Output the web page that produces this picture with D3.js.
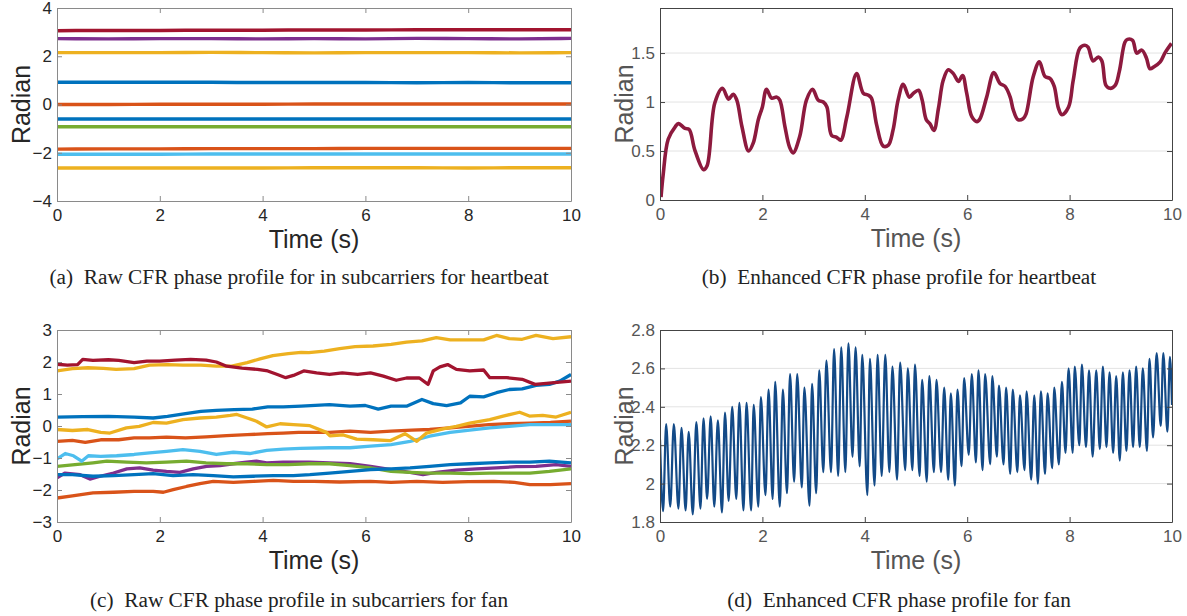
<!DOCTYPE html>
<html><head><meta charset="utf-8">
<script src="https://cdn.jsdelivr.net/npm/d3@7"></script>
<style>html,body{margin:0;padding:0;background:#fff}</style>
</head><body>
<svg id="fig" width="1187" height="616"></svg>
<script>
// ---------------- DATA ----------------
const xTicks = [0, 2, 4, 6, 8, 10];
const aYTicks = [-4, -2, 0, 2, 4];
const bYTicks = [0, 0.5, 1, 1.5];
const cYTicks = [-3, -2, -1, 0, 1, 2, 3];
const dYTicks = [1.8, 2, 2.2, 2.4, 2.6, 2.8];

const captions = [
  "(a)\u2002Raw CFR phase profile for in subcarriers for heartbeat",
  "(b)\u2002Enhanced CFR phase profile for heartbeat",
  "(c)\u2002Raw CFR phase profile in subcarriers for fan",
  "(d)\u2002Enhanced CFR phase profile for fan"
];

// (a) raw phase, heartbeat: values at t = 0,1,...,10
const aTime = [0,1,2,3,4,5,6,7,8,9,10];
const aRed      = [3.06,3.07,3.07,3.08,3.08,3.09,3.09,3.10,3.10,3.10,3.10];
const aPurple   = [2.73,2.72,2.73,2.73,2.72,2.73,2.72,2.74,2.73,2.72,2.74];
const aYellow1  = [2.15,2.15,2.15,2.16,2.15,2.14,2.15,2.15,2.15,2.14,2.15];
const aBlue1    = [0.92,0.92,0.92,0.92,0.91,0.91,0.91,0.90,0.91,0.90,0.90];
const aOrange1  = [0.00,0.00,0.01,0.01,0.01,0.02,0.02,0.02,0.02,0.02,0.02];
const aBlue2    = [-0.60,-0.60,-0.60,-0.60,-0.60,-0.60,-0.60,-0.60,-0.60,-0.60,-0.60];
const aGreen    = [-0.92,-0.92,-0.92,-0.92,-0.92,-0.92,-0.92,-0.92,-0.92,-0.92,-0.92];
const aOrange2  = [-1.85,-1.84,-1.84,-1.83,-1.83,-1.83,-1.82,-1.82,-1.82,-1.82,-1.82];
const aLightBlue= [-2.06,-2.06,-2.06,-2.05,-2.05,-2.05,-2.05,-2.05,-2.05,-2.05,-2.05];
const aYellow2  = [-2.63,-2.63,-2.63,-2.63,-2.63,-2.62,-2.62,-2.62,-2.63,-2.62,-2.62];

// (b) enhanced phase, heartbeat
const bTime = [0.02,0.06,0.16,0.30,0.36,0.49,0.57,0.68,0.85,0.92,1.07,1.22,1.34,1.43,1.50,1.60,1.73,1.82,1.92,2.00,2.08,2.18,2.28,2.34,2.44,2.53,2.60,2.73,2.86,2.98,3.09,3.19,3.26,3.35,3.45,3.53,3.65,3.84,3.97,4.07,4.13,4.23,4.36,4.46,4.55,4.65,4.75,4.87,4.95,5.05,5.12,5.20,5.27,5.35,5.44,5.53,5.63,5.73,5.83,5.91,5.99,6.09,6.19,6.25,6.38,6.52,6.64,6.74,6.84,6.90,6.99,7.09,7.15,7.29,7.41,7.52,7.62,7.70,7.78,7.85,7.98,8.07,8.20,8.30,8.36,8.46,8.56,8.63,8.71,8.79,8.89,8.97,9.08,9.13,9.23,9.31,9.41,9.50,9.57,9.65,9.77,9.86,9.99];
const bPhase = [0.03,0.25,0.62,0.75,0.78,0.73,0.72,0.51,0.31,0.35,0.99,1.14,1.03,1.08,1.02,0.75,0.50,0.58,0.82,0.95,1.13,1.04,1.05,1.02,0.75,0.54,0.48,0.65,1.02,1.13,1.02,1.00,0.95,0.66,0.64,0.61,0.85,1.29,1.09,1.07,1.04,0.77,0.55,0.56,0.71,1.02,1.18,1.05,1.09,1.12,1.02,0.82,0.78,0.71,0.94,1.22,1.33,1.29,1.21,1.27,1.09,0.85,0.80,0.83,1.05,1.30,1.19,1.16,1.05,0.92,0.82,0.83,0.88,1.26,1.41,1.26,1.24,1.16,0.94,0.87,0.95,1.22,1.55,1.58,1.56,1.42,1.46,1.42,1.17,1.14,1.17,1.31,1.61,1.64,1.63,1.50,1.53,1.45,1.34,1.36,1.41,1.50,1.60];

// (c) raw phase, fan: [time, radian] pairs per subcarrier
const cRed = [[0,1.93],[0.2,1.9],[0.4,1.92],[0.5,2.08],[0.7,2.05],[1,2.07],[1.2,2.05],[1.5,1.98],[1.75,2.03],[2,2.03],[2.3,2.06],[2.6,2.08],[2.9,2.06],[3.1,2.0],[3.3,1.87],[3.6,1.81],[3.9,1.77],[4.1,1.72],[4.3,1.6],[4.45,1.51],[4.6,1.58],[4.8,1.72],[5.05,1.66],[5.3,1.61],[5.55,1.66],[5.85,1.61],[6.1,1.66],[6.35,1.56],[6.6,1.43],[6.8,1.5],[7.05,1.5],[7.22,1.3],[7.32,1.72],[7.45,1.85],[7.6,1.92],[7.77,1.77],[8.03,1.72],[8.3,1.75],[8.42,1.51],[8.75,1.51],[9.05,1.46],[9.3,1.3],[9.52,1.33],[9.78,1.37],[10,1.4]];
const cYellow1 = [[0,1.72],[0.3,1.79],[0.6,1.82],[0.9,1.8],[1.15,1.77],[1.5,1.79],[1.8,1.9],[2.15,1.92],[2.45,1.9],[2.8,1.9],[3.1,1.87],[3.4,1.87],[3.7,1.98],[3.95,2.1],[4.2,2.2],[4.5,2.26],[4.75,2.3],[4.9,2.29],[5.2,2.34],[5.5,2.42],[5.8,2.48],[6.15,2.5],[6.5,2.55],[6.8,2.62],[7.1,2.66],[7.38,2.76],[7.65,2.69],[8.0,2.69],[8.3,2.69],[8.55,2.83],[8.8,2.73],[9.05,2.71],[9.32,2.83],[9.65,2.73],[10,2.79]];
const cBlue1 = [[0,0.28],[0.5,0.29],[1,0.3],[1.5,0.28],[1.87,0.25],[2.15,0.3],[2.5,0.39],[2.8,0.46],[3.1,0.49],[3.45,0.51],[3.8,0.53],[4.1,0.6],[4.4,0.6],[4.75,0.62],[5.3,0.67],[5.7,0.62],[6.0,0.64],[6.25,0.53],[6.5,0.62],[6.8,0.62],[7.1,0.83],[7.32,0.7],[7.58,0.64],[7.85,0.72],[8.03,0.93],[8.3,0.91],[8.55,1.04],[8.8,1.14],[9.05,1.16],[9.32,1.27],[9.58,1.3],[9.78,1.4],[10,1.61]];
const cYellow2 = [[0,-0.11],[0.3,-0.14],[0.6,-0.11],[0.85,-0.2],[1.03,-0.22],[1.35,-0.06],[1.6,-0.01],[1.87,0.11],[2.13,0.09],[2.45,0.2],[2.78,0.25],[3.1,0.28],[3.37,0.33],[3.5,0.36],[3.7,0.25],[3.88,0.15],[4.08,-0.03],[4.34,0.07],[4.6,0.04],[4.92,0.01],[5.24,-0.2],[5.31,-0.31],[5.57,-0.28],[5.83,-0.41],[6.15,-0.43],[6.48,-0.46],[6.77,-0.24],[7.0,-0.48],[7.19,-0.22],[7.51,-0.09],[7.77,-0.01],[8.03,0.09],[8.42,0.2],[8.68,0.31],[9.0,0.43],[9.19,0.31],[9.45,0.33],[9.71,0.28],[10,0.43]];
const cOrange1 = [[0,-0.48],[0.3,-0.45],[0.55,-0.51],[0.85,-0.43],[1.2,-0.43],[1.5,-0.37],[1.8,-0.37],[2.13,-0.35],[2.5,-0.37],[2.9,-0.34],[3.3,-0.3],[3.7,-0.27],[4.1,-0.24],[4.4,-0.22],[4.7,-0.2],[5.3,-0.2],[5.7,-0.16],[6.1,-0.2],[6.5,-0.16],[6.9,-0.13],[7.25,-0.11],[7.65,-0.06],[8.0,-0.01],[8.4,0.04],[8.8,0.07],[9.2,0.09],[9.6,0.11],[10,0.15]];
const cLightBlue = [[0,-1.03],[0.16,-0.86],[0.32,-0.93],[0.48,-1.1],[0.61,-0.93],[0.85,-0.95],[1.16,-0.93],[1.5,-0.89],[1.8,-0.84],[2.13,-0.79],[2.45,-0.74],[2.78,-0.79],[3.1,-0.89],[3.43,-0.82],[3.75,-0.86],[4.08,-0.76],[4.4,-0.72],[4.73,-0.7],[5.3,-0.68],[5.7,-0.68],[6.1,-0.63],[6.5,-0.58],[6.87,-0.48],[7.25,-0.32],[7.65,-0.2],[8.03,-0.13],[8.42,-0.06],[8.8,-0.01],[9.2,0.04],[9.6,0.04],[10,0.04]];
const cGreen = [[0,-1.26],[0.35,-1.21],[0.7,-1.15],[0.97,-1.1],[1.36,-1.13],[1.74,-1.15],[2.13,-1.13],[2.52,-1.1],[2.9,-1.15],[3.3,-1.18],[3.7,-1.18],[4.08,-1.21],[4.5,-1.21],[4.9,-1.18],[5.3,-1.18],[5.7,-1.24],[6.1,-1.31],[6.5,-1.42],[6.87,-1.45],[7.25,-1.47],[7.65,-1.47],[8.03,-1.49],[8.42,-1.47],[8.8,-1.47],[9.2,-1.47],[9.58,-1.42],[10,-1.34]];
const cPurple = [[0,-1.62],[0.15,-1.47],[0.45,-1.52],[0.64,-1.66],[0.84,-1.57],[1.1,-1.47],[1.36,-1.34],[1.61,-1.31],[1.87,-1.38],[2.13,-1.42],[2.39,-1.45],[2.65,-1.34],[2.91,-1.26],[3.17,-1.24],[3.43,-1.18],[3.69,-1.13],[3.88,-1.1],[4.08,-1.15],[4.4,-1.13],[4.9,-1.13],[5.3,-1.15],[5.7,-1.18],[6.1,-1.26],[6.5,-1.36],[6.87,-1.45],[7.12,-1.52],[7.38,-1.45],[7.77,-1.38],[8.16,-1.34],[8.55,-1.31],[8.94,-1.27],[9.32,-1.26],[9.71,-1.21],[10,-1.26]];
const cBlue2 = [[0,-1.52],[0.3,-1.52],[0.7,-1.57],[1.1,-1.55],[1.5,-1.52],[1.87,-1.49],[2.26,-1.55],[2.65,-1.52],[3.04,-1.55],[3.43,-1.59],[3.82,-1.57],[4.21,-1.55],[4.6,-1.55],[4.92,-1.52],[5.3,-1.47],[5.7,-1.42],[6.1,-1.36],[6.5,-1.34],[6.87,-1.31],[7.25,-1.26],[7.65,-1.21],[8.03,-1.18],[8.42,-1.15],[8.8,-1.13],[9.2,-1.13],[9.58,-1.1],[10,-1.15]];
const cOrange2 = [[0,-2.25],[0.3,-2.18],[0.7,-2.09],[1.1,-2.07],[1.5,-2.04],[1.87,-2.04],[2.07,-2.07],[2.26,-1.99],[2.52,-1.89],[2.78,-1.8],[3.04,-1.73],[3.43,-1.76],[3.82,-1.73],[4.21,-1.7],[4.6,-1.73],[5.0,-1.73],[5.5,-1.75],[6.1,-1.73],[6.5,-1.76],[7.0,-1.73],[7.5,-1.76],[8.0,-1.74],[8.5,-1.73],[8.9,-1.76],[9.2,-1.83],[9.6,-1.83],[10,-1.8]];

// (d) enhanced phase, fan: successive extrema of the oscillation
const dTime = [0.00,0.06,0.12,0.20,0.27,0.36,0.42,0.50,0.56,0.64,0.71,0.79,0.85,0.92,0.99,1.06,1.13,1.21,1.27,1.34,1.41,1.49,1.55,1.63,1.69,1.78,1.83,1.92,1.97,2.06,2.12,2.20,2.25,2.34,2.40,2.48,2.54,2.62,2.68,2.77,2.82,2.92,2.97,3.05,3.11,3.19,3.25,3.34,3.40,3.48,3.54,3.62,3.68,3.76,3.82,3.90,3.95,4.05,4.10,4.19,4.25,4.33,4.40,4.48,4.54,4.63,4.69,4.79,4.84,4.93,4.98,5.07,5.12,5.21,5.26,5.35,5.40,5.49,5.55,5.63,5.68,5.76,5.81,5.89,5.94,6.03,6.09,6.17,6.22,6.30,6.35,6.45,6.49,6.58,6.62,6.71,6.76,6.84,6.89,6.98,7.03,7.12,7.16,7.25,7.31,7.38,7.44,7.52,7.57,7.66,7.70,7.79,7.85,7.92,7.98,8.06,8.10,8.19,8.24,8.32,8.38,8.45,8.52,8.59,8.65,8.72,8.78,8.85,8.91,8.98,9.04,9.11,9.17,9.24,9.30,9.37,9.43,9.51,9.56,9.63,9.70,9.78,9.83,9.91,9.96,10.00];
const dPhase = [2.23,1.856,2.31,1.88,2.31,1.87,2.29,1.86,2.27,1.84,2.32,1.87,2.34,1.92,2.35,1.88,2.33,1.85,2.37,1.91,2.40,1.92,2.42,1.86,2.42,1.86,2.41,1.88,2.45,1.94,2.49,1.92,2.53,1.88,2.49,1.95,2.57,2.01,2.57,1.98,2.50,1.885,2.52,1.95,2.59,2.06,2.64,2.06,2.70,2.04,2.71,2.06,2.73,2.14,2.71,2.09,2.67,1.94,2.65,1.99,2.67,2.04,2.67,2.06,2.61,2.02,2.63,2.07,2.60,2.07,2.62,2.04,2.54,2.01,2.56,2.06,2.54,2.06,2.50,2.02,2.47,1.99,2.49,2.09,2.55,2.15,2.57,2.11,2.59,2.07,2.57,2.10,2.56,2.14,2.51,2.10,2.50,2.05,2.49,2.06,2.46,2.07,2.48,2.02,2.46,2.00,2.48,2.05,2.47,2.08,2.50,2.10,2.53,2.16,2.60,2.16,2.61,2.20,2.62,2.19,2.59,2.14,2.59,2.18,2.61,2.19,2.58,2.16,2.56,2.12,2.58,2.17,2.59,2.19,2.61,2.19,2.60,2.17,2.65,2.24,2.68,2.30,2.68,2.27,2.66,2.41];

// ---------------- DRAW ----------------
const C = {blue:"#0072BD", orange:"#D95319", yellow:"#EDB120", purple:"#7E2F8E",
           green:"#77AC30", lightblue:"#4DBEEE", red:"#A2142F"};
const svg = d3.select("#fig");
svg.append("rect").attr("width",1187).attr("height",616).attr("fill","#fff");
const defs = svg.append("defs");
let clipId = 0;

function panel(box, yDomain, yTicks, style) {
  const x = d3.scaleLinear().domain([0,10]).range([box.l, box.r]);
  const y = d3.scaleLinear().domain(yDomain).range([box.b, box.t]);
  const g = svg.append("g");
  const id = "clip" + (clipId++);
  defs.append("clipPath").attr("id", id).append("rect")
    .attr("x", box.l).attr("y", box.t).attr("width", box.r - box.l).attr("height", box.b - box.t);
  if (style.grid) {
    g.append("g").selectAll("line").data(yTicks.filter(d => d > yDomain[0] && d < yDomain[1])).join("line")
      .attr("x1", box.l).attr("x2", box.r).attr("y1", d => y(d)).attr("y2", d => y(d))
      .attr("stroke", "#e3e3e3").attr("stroke-width", 1);
  }
  const plot = g.append("g").attr("clip-path", `url(#${id})`);
  const fmt = d3.format("~g");
  const axes = g.append("g");
  const mk = (axis, tr, labels) => {
    const a = axes.append("g").attr("transform", tr).call(axis);
    a.select(".domain").attr("stroke", style.axis).attr("stroke-width", 1);
    a.selectAll(".tick line").attr("stroke", style.axis);
    a.selectAll(".tick text").attr("fill", style.text).attr("font-size", 17)
      .attr("font-family", "Liberation Sans, Arial, sans-serif");
    if (!labels) a.selectAll(".tick text").remove();
    return a;
  };
  mk(d3.axisBottom(x).tickValues(xTicks).tickSizeInner(-5).tickSizeOuter(0).tickPadding(8).tickFormat(fmt), `translate(0,${box.b})`, true);
  mk(d3.axisTop(x).tickValues(xTicks).tickSizeInner(-5).tickSizeOuter(0), `translate(0,${box.t})`, false);
  mk(d3.axisLeft(y).tickValues(yTicks).tickSizeInner(-5).tickSizeOuter(0).tickPadding(5).tickFormat(fmt), `translate(${box.l},0)`, true);
  mk(d3.axisRight(y).tickValues(yTicks).tickSizeInner(-5).tickSizeOuter(0), `translate(${box.r},0)`, false);
  g.append("text").attr("x", (box.l + box.r) / 2).attr("y", box.b + 47)
    .attr("text-anchor", "middle").attr("font-size", 25).attr("fill", style.label)
    .attr("font-family", "Liberation Sans, Arial, sans-serif").text("Time (s)");
  g.append("text").attr("transform", `translate(${box.l - 27},${(box.t + box.b) / 2}) rotate(-90)`)
    .attr("text-anchor", "middle").attr("font-size", 25).attr("fill", style.label)
    .attr("font-family", "Liberation Sans, Arial, sans-serif").text("Radian");
  return {x, y, plot};
}

const leftStyle = {axis:"#8a8a8a", text:"#262626", label:"#262626", grid:false};
const rightStyle = {axis:"#444", text:"#555", label:"#555", grid:true};

// (a)
{
  const {x, y, plot} = panel({l:57, r:571, t:8, b:201}, [-4, 4], aYTicks, leftStyle);
  const series = [[aBlue1,C.blue],[aOrange1,C.orange],[aYellow1,C.yellow],[aPurple,C.purple],[aGreen,C.green],
                  [aLightBlue,C.lightblue],[aRed,C.red],[aBlue2,C.blue],[aOrange2,C.orange],[aYellow2,C.yellow]];
  const line = d3.line().x((d,i) => x(aTime[i])).y(d => y(d)).curve(d3.curveMonotoneX);
  plot.selectAll("path").data(series).join("path")
    .attr("d", d => line(d[0])).attr("fill","none").attr("stroke", d => d[1])
    .attr("stroke-width", 3.4);
}
// (b)
{
  const {x, y, plot} = panel({l:660, r:1172, t:8, b:200}, [0, 1.96], bYTicks, rightStyle);
  const line = d3.line().x((d,i) => x(bTime[i])).y(d => y(d)).curve(d3.curveCatmullRom.alpha(0.5));
  plot.append("path").attr("d", line(bPhase)).attr("fill","none").attr("stroke","#8d1a3e")
    .attr("stroke-width", 3.6).attr("stroke-linejoin","round");
}
// (c)
{
  const {x, y, plot} = panel({l:57, r:571, t:330, b:522}, [-3, 3], cYTicks, leftStyle);
  const series = [[cBlue1,C.blue],[cOrange1,C.orange],[cYellow1,C.yellow],[cPurple,C.purple],[cGreen,C.green],
                  [cLightBlue,C.lightblue],[cRed,C.red],[cBlue2,C.blue],[cOrange2,C.orange],[cYellow2,C.yellow]];
  const line = d3.line().x(d => x(d[0])).y(d => y(d[1]));
  plot.selectAll("path").data(series).join("path")
    .attr("d", d => line(d[0])).attr("fill","none").attr("stroke", d => d[1])
    .attr("stroke-width", 3.3).attr("stroke-linejoin","round");
}
// (d)
{
  const {x, y, plot} = panel({l:660, r:1172, t:330, b:522}, [1.8, 2.8], dYTicks, rightStyle);
  const line = d3.line().x((d,i) => x(dTime[i])).y(d => y(d)).curve(d3.curveMonotoneX);
  plot.append("path").attr("d", line(dPhase)).attr("fill","none").attr("stroke","#134a87")
    .attr("stroke-width", 2.2);
}
// captions
const capPos = [[299,284],[899,284],[299,607],[899,607]];
svg.selectAll("text.cap").data(captions).join("text").attr("class","cap")
  .attr("x", (d,i) => capPos[i][0]).attr("y", (d,i) => capPos[i][1])
  .attr("text-anchor","middle").attr("font-size", 21.3).attr("fill","#222")
  .attr("font-family","Liberation Serif, Times New Roman, serif").text(d => d);
</script>
</body></html>
